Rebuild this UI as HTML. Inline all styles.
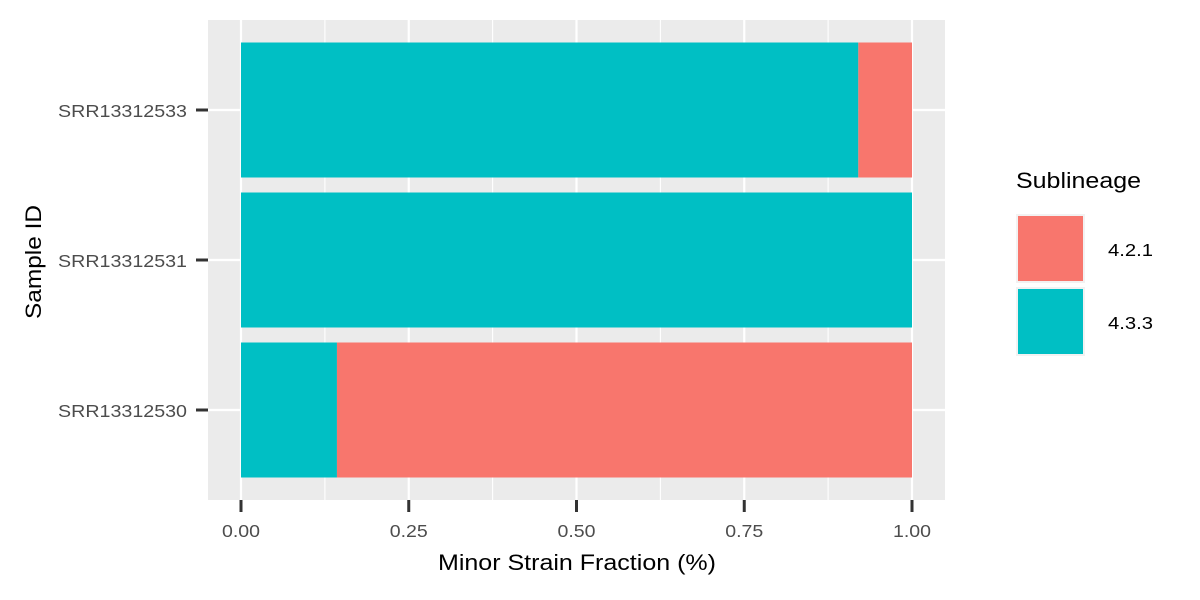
<!DOCTYPE html>
<html><head><meta charset="utf-8"><style>
body{margin:0;background:#fff;}
svg{display:block;font-family:"Liberation Sans",Arial,sans-serif;}
</style></head><body>
<svg id="chart" width="1200" height="600">
<rect x="208" y="20" width="737" height="480" fill="#ebebeb"/>
<g id="grid"></g>
<g id="bars"></g>
<g id="axes"></g>
<text x="438" y="570" font-size="22" textLength="278" lengthAdjust="spacingAndGlyphs" fill="#000">Minor Strain Fraction (%)</text>
<text transform="translate(41,262) rotate(-90)" font-size="22" text-anchor="middle" textLength="114" lengthAdjust="spacingAndGlyphs" fill="#000">Sample ID</text>
<g>
<text x="1016" y="188" font-size="22" textLength="125" lengthAdjust="spacingAndGlyphs" fill="#000">Sublineage</text>
<rect x="1016" y="214" width="69" height="69" fill="#f2f2f2"/>
<rect x="1018" y="216" width="65" height="65" fill="#F8766D"/>
<text x="1108" y="256" font-size="17.5" textLength="45" lengthAdjust="spacingAndGlyphs" fill="#000">4.2.1</text>
<rect x="1016" y="287" width="69" height="69" fill="#f2f2f2"/>
<rect x="1018" y="289" width="65" height="65" fill="#00BFC4"/>
<text x="1108" y="329" font-size="17.5" textLength="45" lengthAdjust="spacingAndGlyphs" fill="#000">4.3.3</text>
</g>
</svg>
<script>
const samples = ["SRR13312530","SRR13312531","SRR13312533"];
const frac433 = [0.143, 1.0, 0.92];
const frac421 = [0.857, 0.0, 0.08];
const xTicks = [0, 0.25, 0.5, 0.75, 1.0];
const xTickLabels = ["0.00","0.25","0.50","0.75","1.00"];

const NS="http://www.w3.org/2000/svg";
const px0=208, px1=945, py0=20, py1=500;
const x0=241, xs=671;
function X(v){return x0+v*xs;}
const ylo=0.4, yhi=samples.length+0.6;
function Yv(v){return py1-(v-ylo)/(yhi-ylo)*(py1-py0);}
function Yc(i){return Yv(i+1);}
const bw=(Yv(1)-Yv(1.9));
function mk(tag,attrs,parent){const e=document.createElementNS(NS,tag);for(const k in attrs)e.setAttribute(k,attrs[k]);parent.appendChild(e);return e;}
const grid=document.getElementById('grid'), bars=document.getElementById('bars'), axes=document.getElementById('axes');
for(let i=0;i<xTicks.length-1;i++){
  const v=(xTicks[i]+xTicks[i+1])/2;
  const l=mk('line',{x1:X(v),x2:X(v),y1:py0,y2:py1,stroke:'#fff','stroke-width':1.1},grid);
  
  
}
xTicks.forEach((v,i)=>{
  const l=mk('line',{x1:X(v),x2:X(v),y1:py0,y2:py1,stroke:'#fff','stroke-width':2.2},grid);
  
  
  const t=mk('line',{x1:X(v),x2:X(v),y1:py1,y2:py1+12,stroke:'#333','stroke-width':3},axes);
  
  
  const tx=mk('text',{x:X(v),y:537,'font-size':17.5,'text-anchor':'middle',textLength:38,lengthAdjust:'spacingAndGlyphs',fill:'#4d4d4d'},axes);
  tx.textContent=xTickLabels[i];
  
  
});
samples.forEach((s,i)=>{
  const y=Yc(i);
  const g=mk('line',{x1:px0,x2:px1,y1:y,y2:y,stroke:'#fff','stroke-width':2.2},grid);
  
  
  const t=mk('line',{x1:px0-12,x2:px0,y1:y,y2:y,stroke:'#333','stroke-width':3},axes);
  
  
  const tx=mk('text',{x:58,y:y+7,'font-size':17.5,textLength:129,lengthAdjust:'spacingAndGlyphs',fill:'#4d4d4d'},axes);
  tx.textContent=s;
  
  
  const a=mk('rect',{x:X(0),y:y-bw/2,width:X(frac433[i])-X(0),height:bw,fill:'#00BFC4'},bars);
  
  
  const b=mk('rect',{x:X(frac433[i]),y:y-bw/2,width:X(frac433[i]+frac421[i])-X(frac433[i]),height:bw,fill:'#F8766D'},bars);
  
  
});
</script>
</body></html>
